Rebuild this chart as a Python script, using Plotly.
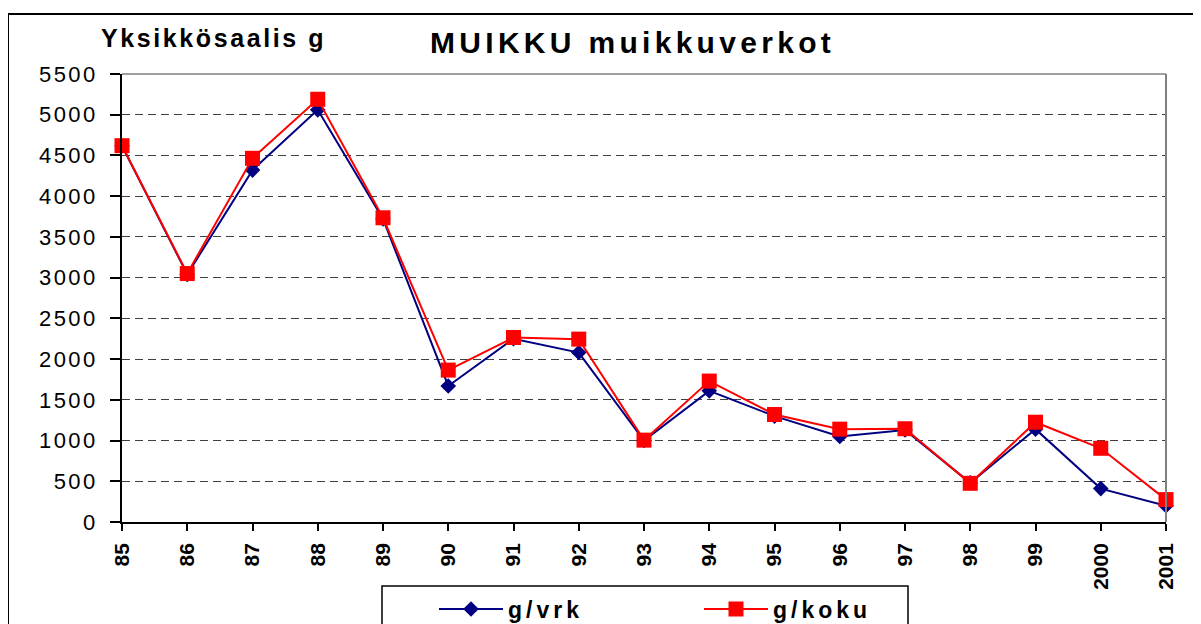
import plotly.graph_objects as go

years = ["85", "86", "87", "88", "89", "90", "91", "92", "93", "94", "95",
         "96", "97", "98", "99", "2000", "2001"]
g_vrk = [4620, 3040, 4320, 5060, 3720, 1670, 2250, 2080, 1000, 1610, 1300,
         1050, 1130, 480, 1140, 410, 200]
g_koku = [4620, 3050, 4465, 5190, 3735, 1865, 2265, 2245, 1005, 1730, 1320,
          1140, 1145, 475, 1225, 905, 275]
y_ticks = list(range(0, 5501, 500))

# page has an 8px body margin: work in page pixels, convert to figure pixels
OFF = 8
W, H = 1201 - OFF, 624 - OFF
PL, PR, PT, PB = 122, 1166, 74, 522          # plot area in page pixels
L, T = PL - OFF, PT - OFF
R, B = W - (PR - OFF), H - (PB - OFF)
pw, ph = W - L - R, H - T - B


def px(x):
    return (x - OFF - L) / pw


def py(y):
    return (H - B - (y - OFF)) / ph


FONT = "Arial, Liberation Sans, sans-serif"


def spaced(s, sp):
    return '<span style="letter-spacing:%spx">%s</span>' % (sp, s)


fig = go.Figure()
fig.add_trace(go.Scatter(
    x=list(range(len(years))), y=g_vrk, mode="lines+markers",
    name=spaced("g/vrk", 4),
    line=dict(color="#000080", width=2),
    marker=dict(symbol="diamond", size=12, color="#000080"),
    cliponaxis=False,
))
fig.add_trace(go.Scatter(
    x=list(range(len(years))), y=g_koku, mode="lines+markers",
    name=spaced("g/koku", 4),
    line=dict(color="#FF0000", width=2),
    marker=dict(symbol="square", size=15, color="#FF0000"),
    cliponaxis=False,
))

shapes = [
    dict(type="rect", xref="paper", yref="paper", x0=px(8), x1=px(1215),
         y0=py(640), y1=py(14), line=dict(color="#000", width=2),
         layer="below"),
    dict(type="line", xref="paper", yref="paper", x0=0, x1=1, y0=1, y1=1,
         line=dict(color="#808080", width=1.5)),
    dict(type="line", xref="paper", yref="paper", x0=1, x1=1, y0=0, y1=1,
         line=dict(color="#808080", width=2)),
    dict(type="rect", xref="paper", yref="paper", x0=px(382), x1=px(908),
         y0=py(640), y1=py(586), line=dict(color="#000", width=1.5)),
]

fig.update_layout(
    width=W, height=H,
    margin=dict(l=L, r=R, t=T, b=B, autoexpand=False),
    paper_bgcolor="white", plot_bgcolor="white",
    font=dict(family=FONT, color="#000"),
    showlegend=True,
    legend=dict(
        orientation="h", x=px(434), y=py(609), xanchor="left", yanchor="middle",
        font=dict(size=23, family=FONT, weight="bold", color="#000"),
        bgcolor="rgba(0,0,0,0)", borderwidth=0, entrywidth=186,
        itemwidth=64, traceorder="normal",
    ),
    xaxis=dict(
        tickmode="array", tickvals=list(range(len(years))), ticktext=years,
        range=[0, len(years) - 1], tickangle=-90,
        tickfont=dict(size=21, family=FONT, weight="bold", color="#000"),
        showgrid=False, zeroline=False, showline=True,
        linecolor="#000", linewidth=1.5, ticks="outside", ticklen=7,
        tickcolor="#000", tickwidth=1.5, ticklabelstandoff=4,
    ),
    yaxis=dict(
        range=[0, 5500], tickmode="array", tickvals=y_ticks,
        ticktext=[spaced(str(v), 2.5) for v in y_ticks],
        tickfont=dict(size=22, family=FONT, color="#000"),
        showgrid=True, gridcolor="#404040", gridwidth=1, griddash="8px,5px",
        zeroline=False, showline=True, linecolor="#000", linewidth=1.5,
        ticks="outside", ticklen=10, tickcolor="#000", tickwidth=1.5,
        ticklabelstandoff=8,
    ),
    shapes=shapes,
    annotations=[
        dict(text="<b>" + spaced("Yksikkösaalis g", 2.6) + "</b>",
             xref="paper", yref="paper",
             x=px(99), y=py(38), xanchor="left", yanchor="middle",
             showarrow=False, font=dict(size=25, family=FONT, color="#000")),
        dict(text="<b>" + spaced("MUIKKU muikkuverkot", 4.3) + "</b>",
             xref="paper", yref="paper",
             x=px(632), y=py(43), xanchor="center", yanchor="middle",
             showarrow=False, font=dict(size=30, family=FONT, color="#000")),
    ],
)

fig.write_html("out.html")
